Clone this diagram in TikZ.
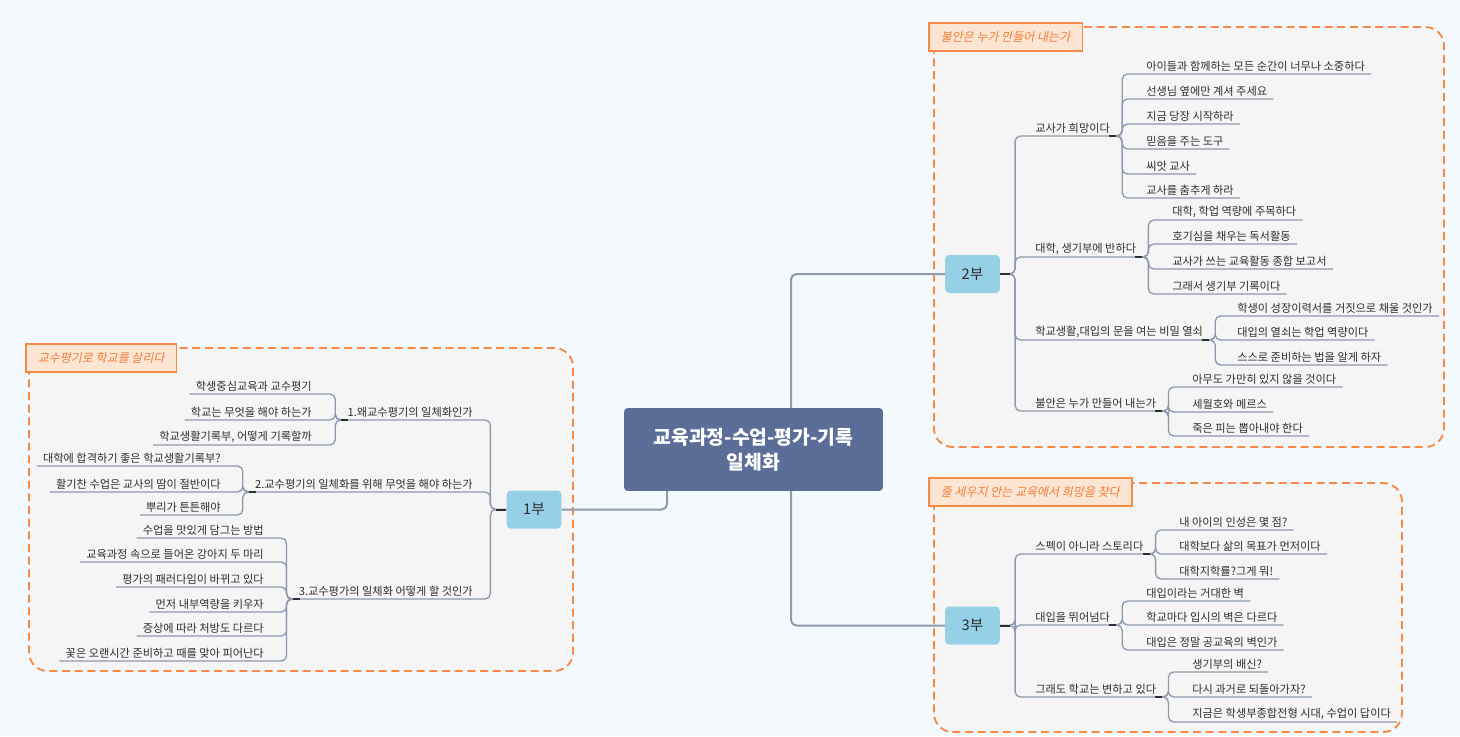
\documentclass[tikz,border=0pt]{standalone}
\usepackage{fontspec}
\setmainfont{Noto Sans CJK KR}
\newfontfamily\tagfont[FakeSlant=0.2]{Noto Sans CJK KR}
\newcommand\leafsize{\fontsize{8.4}{10}\selectfont}

\definecolor{bgcol}{HTML}{F4F9FD}
\definecolor{framefill}{HTML}{F5F5F5}
\definecolor{framecol}{HTML}{F58B47}
\definecolor{tagfill}{HTML}{FDE5D4}
\definecolor{tagtext}{HTML}{F07F3A}
\definecolor{rootcol}{HTML}{5A6E97}
\definecolor{partcol}{HTML}{96D0E6}
\definecolor{conncol}{HTML}{8E9AAF}
\definecolor{txtcol}{HTML}{2E2E2E}

\tikzset{
  frame/.style={fill=framefill, draw=framecol, line width=1.4pt, dash pattern=on 6pt off 3.5pt, rounded corners=14pt},
  tag/.style={draw=framecol, fill=tagfill, line width=1.2pt, text=tagtext, font=\tagfont\fontsize{9}{11}\selectfont, anchor=north west, inner xsep=9pt, minimum height=21pt},
  rootbox/.style={fill=rootcol, rounded corners=2.5pt, minimum width=194pt, minimum height=62pt, text=white, align=center, font=\fontsize{14.5}{18.75}\selectfont\bfseries},
  part/.style={fill=partcol, rounded corners=3pt, minimum width=41pt, minimum height=28.5pt, text=txtcol, font=\fontsize{11}{13}\selectfont},
  topic/.style={font=\leafsize, text=txtcol, inner xsep=4.5pt, inner ysep=1.8pt},
  conn/.style={draw=conncol, line width=1pt, rounded corners=4pt},
  stub/.style={draw=txtcol, line width=1.5pt}
}

\begin{document}
\begin{tikzpicture}[x=0.75pt, y=-0.75pt]
  \fill[bgcol] (0,0) rectangle (1460,736);
  \useasboundingbox (0,0) rectangle (1460,736);

  % boundaries
  \draw[frame] (934,27) rectangle (1444,447);
  \draw[frame] (934,483) rectangle (1402,732);
  \draw[frame] (29,348) rectangle (573,671);

  % main topics
  \node[rootbox] (root) at (753.5,449.5) {교육과정-수업-평가-기록\\일체화};
  \node[part] (p1) at (534,509.5) {1부};
  \node[part] (p2) at (972.5,274) {2부};
  \node[part] (p3) at (972.5,625.5) {3부};

  \draw[conn, line width=1.5pt] (root.north) ++(37.5,0) |- (p2.west);
  \draw[conn, line width=1.5pt] (root.south) ++(37.5,0) |- (p3.west);
  \draw[conn, line width=1.5pt] (root.south) ++(-86.5,0) |- (p1.east);

  % 1부
  \node[topic, anchor=south east] (c11) at (479,420) {1.왜교수평기의 일체화인가};
  \node[topic, anchor=south east] (c12) at (479,492) {2.교수평기의 일체화를 위해 무엇을 해야 하는가};
  \node[topic, anchor=south east] (c13) at (479,599) {3.교수평가의 일체화 어떻게 할 것인가};
  \foreach \c in {c11,c12,c13}
    \draw[conn] (p1.west) -- ++(-16,0) |- (\c.south east) -- (\c.south west);

  \foreach \y/\t [count=\i] in {394/학생중심교육과 교수평기, 420/학교는 무엇을 해야 하는가, 445/{학교생활기록부, 어떻게 기록할까}} {
    \node[topic, anchor=south east] (c11-\i) at (318,\y) {\t};
    \draw[conn] (c11.south west) -- ++(-6,0) |- (c11-\i.south east) -- (c11-\i.south west);
  }
  \foreach \y/\t [count=\i] in {466/대학에 합격하기 좋은 학교생활기록부?, 492/활기찬 수업은 교사의 땀이 절반이다, 515/뿌리가 튼튼해야} {
    \node[topic, anchor=south east] (c12-\i) at (227,\y) {\t};
    \draw[conn] (c12.south west) -- ++(-6,0) |- (c12-\i.south east) -- (c12-\i.south west);
  }
  \foreach \y/\t [count=\i] in {538/수업을 맛있게 담그는 방법, 562/교육과정 속으로 들어온 강아지 두 마리, 587/평가의 패러다임이 바뀌고 있다, 612/먼저 내부역량을 키우자, 636/증상에 따라 처방도 다르다, 661/꽃은 오랜시간 준비하고 때를 맞아 피어난다} {
    \node[topic, anchor=south east] (c13-\i) at (270,\y) {\t};
    \draw[conn] (c13.south west) -- ++(-6,0) |- (c13-\i.south east) -- (c13-\i.south west);
  }

  % 2부
  \node[topic, anchor=south west] (c21) at (1029,136) {교사가 희망이다};
  \node[topic, anchor=south west] (c22) at (1029,257) {대학, 생기부에 반하다};
  \node[topic, anchor=south west] (c23) at (1029,340) {학교생활,대입의 문을 여는 비밀 열쇠};
  \node[topic, anchor=south west] (c24) at (1029,411) {불안은 누가 만들어 내는가};
  \foreach \c in {c21,c22,c23,c24}
    \draw[conn] (p2.east) -- ++(15,0) |- (\c.south west) -- (\c.south east);

  \foreach \y/\t [count=\i] in {74/아이들과 함께하는 모든 순간이 너무나 소중하다, 99/선생님 옆에만 계셔 주세요, 124/지금 당장 시작하라, 149/믿음을 주는 도구, 174/씨앗 교사, 198/교사를 춤추게 하라} {
    \node[topic, anchor=south west] (c21-\i) at (1140,\y) {\t};
    \draw[conn] (c21.south east) -- ++(6,0) |- (c21-\i.south west) -- (c21-\i.south east);
  }
  \foreach \y/\t [count=\i] in {220/{대학, 학업 역량에 주목하다}, 244/호기심을 채우는 독서활동, 269/교사가 쓰는 교육활동 종합 보고서, 294/그래서 생기부 기록이다} {
    \node[topic, anchor=south west] (c22-\i) at (1166,\y) {\t};
    \draw[conn] (c22.south east) -- ++(6,0) |- (c22-\i.south west) -- (c22-\i.south east);
  }
  \foreach \y/\t [count=\i] in {316/학생이 성장이력서를 거짓으로 채울 것인가, 340/대입의 열쇠는 학업 역량이다, 365/스스로 준비하는 법을 알게 하자} {
    \node[topic, anchor=south west] (c23-\i) at (1231,\y) {\t};
    \draw[conn] (c23.south east) -- ++(6,0) |- (c23-\i.south west) -- (c23-\i.south east);
  }
  \foreach \y/\t [count=\i] in {387/아무도 가만히 있지 않을 것이다, 412/세월호와 메르스, 436/죽은 피는 뽑아내야 한다} {
    \node[topic, anchor=south west] (c24-\i) at (1186,\y) {\t};
    \draw[conn] (c24.south east) -- ++(6,0) |- (c24-\i.south west) -- (c24-\i.south east);
  }

  % 3부
  \node[topic, anchor=south west] (c31) at (1029,554) {스펙이 아니라 스토리다};
  \node[topic, anchor=south west] (c32) at (1029,625) {대입을 뛰어넘다};
  \node[topic, anchor=south west] (c33) at (1029,697) {그래도 학교는 변하고 있다};
  \foreach \c in {c31,c32,c33}
    \draw[conn] (p3.east) -- ++(15,0) |- (\c.south west) -- (\c.south east);

  \foreach \y/\t [count=\i] in {530/내 아이의 인성은 몇 점?, 554/대학보다 삶의 목표가 먼저이다, 579/대학지학률?그게 뭐!} {
    \node[topic, anchor=south west] (c31-\i) at (1173,\y) {\t};
    \draw[conn] (c31.south east) -- ++(6,0) |- (c31-\i.south west) -- (c31-\i.south east);
  }
  \foreach \y/\t [count=\i] in {601/대입이라는 거대한 벽, 625/학교마다 입시의 벽은 다르다, 650/대입은 정말 공교육의 벽인가} {
    \node[topic, anchor=south west] (c32-\i) at (1140,\y) {\t};
    \draw[conn] (c32.south east) -- ++(6,0) |- (c32-\i.south west) -- (c32-\i.south east);
  }
  \foreach \y/\t [count=\i] in {672/생기부의 배신?, 697/다시 과거로 되돌아가자?, 722/{지금은 학생부종합전형 시대, 수업이 답이다}} {
    \node[topic, anchor=south west] (c33-\i) at (1186,\y) {\t};
    \draw[conn] (c33.south east) -- ++(6,0) |- (c33-\i.south west) -- (c33-\i.south east);
  }

  % collapse stubs
  \draw[stub] (p1.west) -- ++(-10,0);
  \foreach \p in {p2,p3} \draw[stub] (\p.east) -- ++(10,0);
  \foreach \c in {c11,c12,c13} \draw[stub] (\c.south west) -- ++(7,0);
  \foreach \c in {c21,c22,c23,c24,c31,c32,c33} \draw[stub] (\c.south east) -- ++(-7,0);

  % boundary titles
  \node[tag] (t1) at (928,22) {불안은 누가 만들어 내는가};
  \node[tag] (t2) at (928,477) {줄 세우지 안는 교육에서 희망을 찾다};
  \node[tag] (t3) at (25,343) {교수평기로 학교를 살리다};
\end{tikzpicture}
\end{document}
